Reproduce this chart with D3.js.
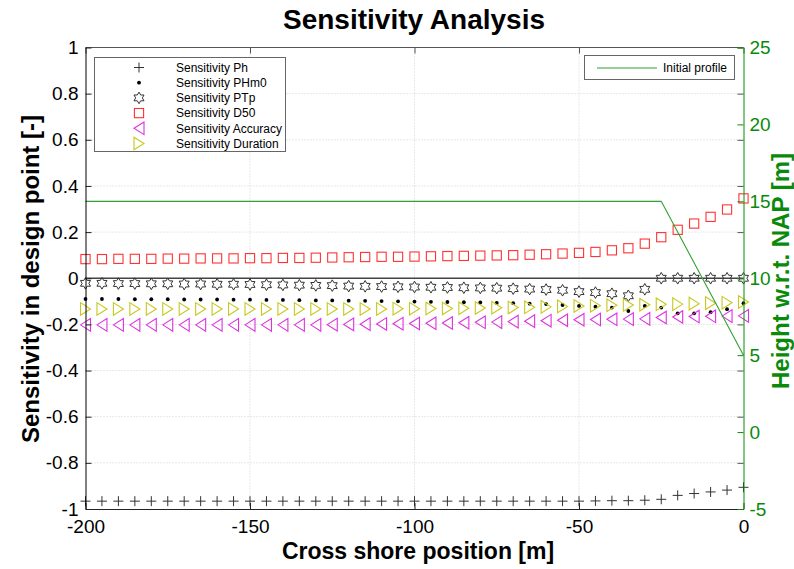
<!DOCTYPE html>
<html>
<head>
<meta charset="utf-8">
<script src="https://cdn.jsdelivr.net/npm/d3@7"></script>
<style>
  body { margin: 0; background: #fff; }
  svg { display: block; font-family: "Liberation Sans", Arial, sans-serif; }
</style>
</head>
<body>
<svg id="chart" width="794" height="569"></svg>
<script>
// cross shore positions [m]
const positions = [-200, -195, -190, -185, -180, -175, -170, -165, -160, -155,
  -150, -145, -140, -135, -130, -125, -120, -115, -110, -105,
  -100, -95, -90, -85, -80, -75, -70, -65, -60, -55,
  -50, -45, -40, -35, -30, -25, -20, -15, -10, -5, 0];

const sensPh = [-0.966, -0.966, -0.966, -0.966, -0.966, -0.966, -0.966, -0.966, -0.966, -0.966,
  -0.966, -0.966, -0.966, -0.966, -0.966, -0.966, -0.966, -0.966, -0.966, -0.966,
  -0.966, -0.966, -0.966, -0.966, -0.966, -0.966, -0.966, -0.966, -0.966, -0.966,
  -0.966, -0.965, -0.964, -0.964, -0.962, -0.958, -0.941, -0.933, -0.926, -0.918, -0.906];

const sensPHm0 = [-0.090, -0.090, -0.090, -0.091, -0.091, -0.091, -0.092, -0.092, -0.092, -0.093,
  -0.093, -0.094, -0.094, -0.095, -0.096, -0.096, -0.097, -0.098, -0.099, -0.100,
  -0.101, -0.102, -0.103, -0.104, -0.105, -0.107, -0.108, -0.110, -0.112, -0.116,
  -0.120, -0.123, -0.127, -0.142, -0.120, -0.127, -0.152, -0.152, -0.147, -0.134, -0.108];

const sensPTp = [-0.022, -0.022, -0.023, -0.023, -0.024, -0.024, -0.025, -0.025, -0.026, -0.026,
  -0.027, -0.028, -0.029, -0.030, -0.031, -0.032, -0.034, -0.035, -0.036, -0.037,
  -0.038, -0.039, -0.040, -0.041, -0.042, -0.043, -0.045, -0.047, -0.049, -0.052,
  -0.058, -0.062, -0.067, -0.076, -0.048, 0, 0, 0, 0, 0, 0];

const sensD50 = [0.083, 0.083, 0.084, 0.084, 0.084, 0.085, 0.085, 0.086, 0.086, 0.086,
  0.087, 0.087, 0.088, 0.088, 0.089, 0.090, 0.091, 0.092, 0.093, 0.093,
  0.094, 0.095, 0.096, 0.097, 0.098, 0.099, 0.100, 0.102, 0.104, 0.107,
  0.110, 0.114, 0.121, 0.130, 0.150, 0.178, 0.210, 0.237, 0.266, 0.298, 0.346];

const sensAccuracy = [-0.202, -0.202, -0.202, -0.202, -0.202, -0.202, -0.202, -0.202, -0.202, -0.202,
  -0.202, -0.202, -0.202, -0.202, -0.202, -0.201, -0.200, -0.199, -0.198, -0.197,
  -0.196, -0.195, -0.194, -0.193, -0.191, -0.190, -0.188, -0.186, -0.184, -0.182,
  -0.180, -0.179, -0.178, -0.177, -0.176, -0.170, -0.168, -0.166, -0.165, -0.164, -0.163];

const sensDuration = [-0.133, -0.133, -0.133, -0.133, -0.133, -0.133, -0.133, -0.133, -0.133, -0.133,
  -0.133, -0.133, -0.133, -0.133, -0.133, -0.133, -0.133, -0.133, -0.133, -0.132,
  -0.132, -0.131, -0.131, -0.130, -0.129, -0.128, -0.127, -0.126, -0.124, -0.122,
  -0.120, -0.119, -0.117, -0.116, -0.115, -0.113, -0.112, -0.110, -0.108, -0.106, -0.103];

// initial profile (right axis)
const profileX = [-200, -25, 0];
const profileZ = [15, 15, 5];

const xTicks = [-200, -150, -100, -50, 0];
const yLeftTicks = [-1, -0.8, -0.6, -0.4, -0.2, 0, 0.2, 0.4, 0.6, 0.8, 1];
const yRightTicks = [-5, 0, 5, 10, 15, 20, 25];

const seriesNames = ['Sensitivity Ph', 'Sensitivity PHm0', 'Sensitivity PTp',
  'Sensitivity D50', 'Sensitivity Accuracy', 'Sensitivity Duration'];

const pLeft = 85.5, pRight = 743.5, pTop = 47.5, pBottom = 509;
const green = '#0a8a0a';

const svg = d3.select('#chart');

const x = d3.scaleLinear().domain([-200, 0]).range([pLeft, pRight]);
const yL = d3.scaleLinear().domain([-1, 1]).range([pBottom, pTop]);
const yR = d3.scaleLinear().domain([-5, 25]).range([pBottom, pTop]);

// marker shapes
function hexagram(r) {
  const ri = r / Math.sqrt(3);
  const pts = [];
  for (let i = 0; i < 12; i++) {
    const a = -Math.PI / 2 + i * Math.PI / 6;
    const rr = i % 2 === 0 ? r : ri;
    pts.push([rr * Math.cos(a), rr * Math.sin(a)]);
  }
  return 'M' + pts.map(p => p.join(',')).join('L') + 'Z';
}
const markers = [
  g => g.append('path').attr('d', 'M-5,0H5M0,-5V5').attr('stroke', '#333').attr('stroke-width', 1).attr('fill', 'none'),
  g => g.append('circle').attr('r', 1.9).attr('fill', '#000'),
  g => g.append('path').attr('d', hexagram(5.8)).attr('stroke', '#333').attr('stroke-width', 1).attr('fill', 'none'),
  g => g.append('rect').attr('x', -4.6).attr('y', -4.6).attr('width', 9.2).attr('height', 9.2).attr('stroke', '#ff3333').attr('stroke-width', 1.1).attr('fill', 'none'),
  g => g.append('path').attr('d', 'M-5,0L5,-6.3L5,6.3Z').attr('stroke', '#dd33dd').attr('stroke-width', 1.1).attr('fill', 'none'),
  g => g.append('path').attr('d', 'M5,0L-5,-6.3L-5,6.3Z').attr('stroke', '#c8c81e').attr('stroke-width', 1.1).attr('fill', 'none')
];
const seriesValues = [sensPh, sensPHm0, sensPTp, sensD50, sensAccuracy, sensDuration];

// grid
const grid = svg.append('g').attr('stroke', '#d0d0d0').attr('stroke-dasharray', '1,2').attr('stroke-width', 1);
grid.selectAll('.gx').data(xTicks.slice(1, -1)).enter().append('line')
  .attr('x1', d => x(d)).attr('x2', d => x(d)).attr('y1', pTop).attr('y2', pBottom);
grid.selectAll('.gy').data(yLeftTicks.slice(1, -1)).enter().append('line')
  .attr('x1', pLeft).attr('x2', pRight).attr('y1', d => yL(d)).attr('y2', d => yL(d));

// zero line
svg.append('line').attr('x1', x(-200)).attr('x2', x(0)).attr('y1', yL(0)).attr('y2', yL(0))
  .attr('stroke', '#444').attr('stroke-width', 1.3);

// series markers
seriesValues.forEach((vals, si) => {
  const g = svg.append('g');
  positions.forEach((p, i) => {
    markers[si](g.append('g').attr('transform', `translate(${x(p)},${yL(vals[i])})`));
  });
});

// initial profile
svg.append('path')
  .datum(profileX.map((p, i) => [p, profileZ[i]]))
  .attr('d', d3.line().x(d => x(d[0])).y(d => yR(d[1])))
  .attr('fill', 'none').attr('stroke', '#33a033').attr('stroke-width', 1.1);

// frame
svg.append('line').attr('x1', pLeft).attr('x2', pRight).attr('y1', pTop).attr('y2', pTop).attr('stroke', '#555');

// axes
const fmt = d => String(d);
const xAxis = svg.append('g').attr('transform', `translate(0,${pBottom})`)
  .call(d3.axisBottom(x).tickValues(xTicks).tickFormat(fmt).tickSizeInner(-6).tickSizeOuter(0).tickPadding(11));
xAxis.select('.domain').attr('stroke', '#222');
xAxis.selectAll('.tick line').attr('stroke', '#222');
xAxis.selectAll('text').attr('font-size', 19).attr('fill', '#000');

const xAxisTop = svg.append('g').attr('transform', `translate(0,${pTop})`)
  .call(d3.axisTop(x).tickValues(xTicks).tickFormat('').tickSizeInner(-6).tickSizeOuter(0));
xAxisTop.select('.domain').remove();
xAxisTop.selectAll('.tick line').attr('stroke', '#555');

const yAxis = svg.append('g').attr('transform', `translate(${pLeft},0)`)
  .call(d3.axisLeft(yL).tickValues(yLeftTicks).tickFormat(fmt).tickSizeInner(-6).tickSizeOuter(0).tickPadding(7));
yAxis.select('.domain').attr('stroke', '#000');
yAxis.selectAll('.tick line').attr('stroke', '#222');
yAxis.selectAll('text').attr('font-size', 19).attr('fill', '#000');

// left ticks mirrored on the right side
const yAxisMirror = svg.append('g').attr('transform', `translate(${pRight},0)`)
  .call(d3.axisRight(yL).tickValues(yLeftTicks).tickFormat('').tickSizeInner(-6).tickSizeOuter(0));
yAxisMirror.select('.domain').remove();
yAxisMirror.selectAll('.tick line').attr('stroke', '#555');

const yAxisR = svg.append('g').attr('transform', `translate(${pRight},0)`)
  .call(d3.axisRight(yR).tickValues(yRightTicks).tickFormat(fmt).tickSizeInner(-6).tickSizeOuter(0).tickPadding(6));
yAxisR.select('.domain').attr('stroke', green);
yAxisR.selectAll('.tick line').attr('stroke', green);
yAxisR.selectAll('text').attr('font-size', 19).attr('fill', green);

// labels
svg.append('text').attr('x', 414).attr('y', 29).attr('text-anchor', 'middle')
  .attr('font-size', 28).attr('font-weight', 'bold').text('Sensitivity Analysis');
svg.append('text').attr('x', 418).attr('y', 559).attr('text-anchor', 'middle')
  .attr('font-size', 23).attr('font-weight', 'bold').text('Cross shore position [m]');
svg.append('text').attr('transform', 'translate(39,279) rotate(-90)').attr('text-anchor', 'middle')
  .attr('font-size', 24).attr('font-weight', 'bold').text('Sensitivity in design point [-]');
svg.append('text').attr('transform', 'translate(789,271) rotate(-90)').attr('text-anchor', 'middle')
  .attr('font-size', 24).attr('font-weight', 'bold').attr('fill', green).text('Height w.r.t. NAP [m]');

// legend 1
const leg = svg.append('g');
leg.append('rect').attr('x', 94.5).attr('y', 57.5).attr('width', 191).attr('height', 94)
  .attr('fill', '#fff').attr('stroke', '#666');
seriesNames.forEach((name, i) => {
  const cy = 67.5 + i * 15.2;
  markers[i](leg.append('g').attr('transform', `translate(139,${cy})`));
  leg.append('text').attr('x', 176).attr('y', cy).attr('dy', '0.35em')
    .attr('font-size', 12).text(name);
});

// legend 2
const leg2 = svg.append('g');
leg2.append('rect').attr('x', 584.5).attr('y', 55.5).attr('width', 150).attr('height', 24)
  .attr('fill', '#fff').attr('stroke', '#666');
leg2.append('line').attr('x1', 597).attr('x2', 657).attr('y1', 68).attr('y2', 68)
  .attr('stroke', '#33a033').attr('stroke-width', 1.1);
leg2.append('text').attr('x', 663).attr('y', 68).attr('dy', '0.35em').attr('font-size', 12).text('Initial profile');
</script>
</body>
</html>
